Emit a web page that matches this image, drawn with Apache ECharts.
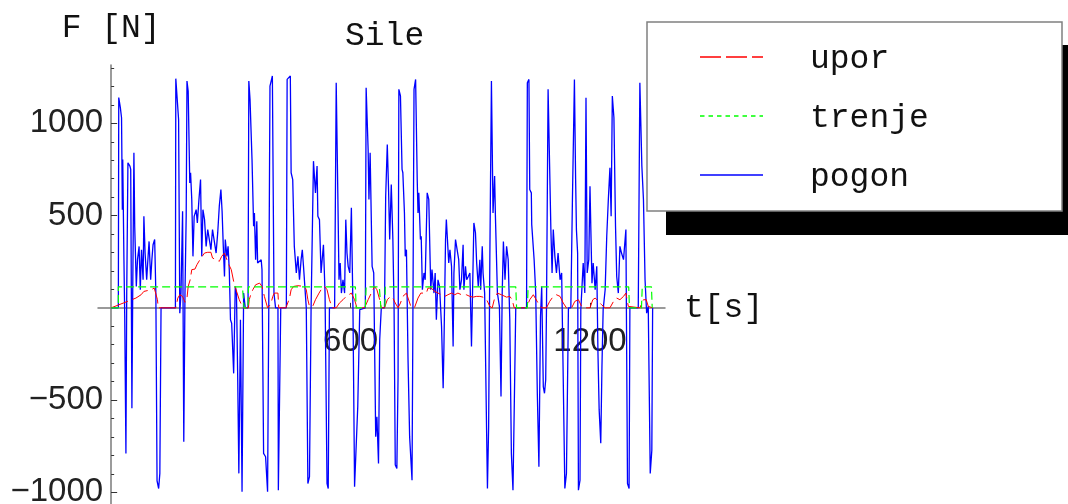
<!DOCTYPE html>
<html>
<head>
<meta charset="utf-8">
<title>Sile</title>
<script src="https://cdn.jsdelivr.net/npm/echarts@6.0.0/dist/echarts.min.js"></script>
<style>
  html, body { margin: 0; padding: 0; background: #fff; }
  #chart { width: 1068px; height: 504px; }
</style>
</head>
<body>
<div id="chart"></div>
<script>
// Forces over time: [t in s, F in N]
const pogon = [
  [0,0],[18,0],[19,1140],[23,1085],[26,1030],[28,532],[29,804],[32,261],[34,-47],[37,-789],[39,80],[42,786],[47,768],[49,750],[52,-544],[54,80],[57,840],[59,442],[63,116],[66,261],[70,333],[73,98],[76,315],[80,152],[82,496],[85,297],[89,152],[92,261],[95,360],[99,152],[102,261],[105,342],[109,370],[112,80],[115,-937],[119,-979],[122,-897],[125,0],
  [161,0],[162,1242],[166,1242],[169,1021],[172,-29],[175,80],[179,523],[182,-725],[185,80],[188,496],[190,1229],[193,1175],[197,677],[199,732],[202,587],[205,279],[208,496],[213,532],[216,460],[220,587],[224,695],[227,279],[230,532],[234,478],[238,333],[242,424],[246,370],[250,315],[254,424],[259,420],[263,297],[267,406],[271,551],[275,641],[278,523],[281,333],[284,170],[286,370],[290,279],[293,333],[296,207],[299,-65],[302,-83],[307,-355],[311,116],[314,80],[317,-355],[320,-897],[324,-65],[328,-997],[332,80],[336,0],
  [343,0],[345,1229],[348,1130],[353,804],[357,442],[359,514],[362,261],[365,469],[367,243],[372,234],[376,261],[378,207],[382,-789],[387,-807],[392,-997],[395,0],[398,1202],[403,1211],[404,1257],[408,80],[412,0],[418,0],[419,-988],[423,-997],[425,0],
  [439,0],[441,1238],[445,1229],[449,1257],[451,732],[455,695],[459,333],[464,189],[468,279],[472,152],[476,261],[479,315],[482,225],[489,0],[493,-952],[497,-915],[501,-10],[507,795],[512,623],[516,768],[518,496],[522,478],[526,189],[532,342],[536,80],[541,-952],[544,-979],[547,0],
  [560,0],[564,1220],[568,623],[571,152],[574,243],[577,80],[581,152],[585,80],[588,478],[591,297],[594,225],[598,189],[602,542],[606,-10],[610,-970],[614,-979],[618,-535],[623,-10],[637,0],[639,1193],[644,858],[646,587],[649,840],[654,225],[658,189],[663,-698],[666,-590],[670,-843],[673,-173],[677,0],
  [685,0],[688,605],[692,885],[695,659],[698,370],[702,668],[706,370],[709,0],[712,-852],[716,-870],[719,-373],[721,1184],[725,1148],[729,750],[731,732],[735,514],[737,279],[740,315],[744,-282],[748,-698],[754,-934],[756,-137],[759,1184],[763,1238],[767,695],[769,514],[771,623],[775,370],[777,388],[780,98],[784,189],[787,152],[792,623],[796,587],[798,388],[801,98],[804,207],[809,80],[812,189],[815,-65],[819,152],[823,116],[828,-101],[832,-436],[834,-210],[838,370],[840,478],[843,478],[846,243],[849,315],[853,225],[857,-210],[859,189],[863,370],[868,370],[871,261],[874,98],[878,152],[882,342],[884,98],[888,225],[891,152],[895,170],[899,189],[903,-210],[905,8],[909,460],[913,406],[916,243],[920,116],[924,261],[926,98],[930,333],[932,189],[936,80],[941,-680],[943,-979],[946,-644],[949,261],[953,1229],[957,514],[961,714],[963,496],[968,80],[973,8],[977,-481],[980,80],[983,360],[987,152],[991,333],[995,261],[999,-65],[1003,-789],[1007,-988],[1010,-979],[1014,0],
  [1041,0],[1043,1220],[1047,1238],[1049,641],[1053,623],[1054,451],[1058,442],[1060,261],[1064,80],[1068,-463],[1072,-861],[1076,-47],[1079,116],[1083,-427],[1086,-463],[1089,-391],[1091,0],[1095,1184],[1099,750],[1102,424],[1105,189],[1108,424],[1112,279],[1116,189],[1120,297],[1125,152],[1129,189],[1133,-391],[1137,-979],[1141,-897],[1146,0],
  [1152,0],[1156,587],[1161,1238],[1164,695],[1166,424],[1169,297],[1171,-988],[1175,-934],[1177,-10],[1183,243],[1187,80],[1190,1139],[1193,189],[1197,261],[1200,659],[1202,442],[1205,134],[1208,243],[1213,98],[1217,225],[1220,-246],[1223,-553],[1227,-734],[1230,-318],[1233,-10],[1238,98],[1242,388],[1246,587],[1250,759],[1253,496],[1256,1148],[1260,1030],[1264,442],[1267,170],[1271,80],[1275,333],[1279,297],[1284,261],[1288,370],[1290,424],[1294,-952],[1298,-979],[1300,0],
  [1321,0],[1325,1220],[1330,768],[1334,587],[1338,152],[1342,-29],[1346,8],[1351,-897],[1355,-771],[1357,0]
];

const upor = [
  [0,0],[62,53],[75,71],[82,89],[87,98],[100,98],[108,107],[112,100],[116,44],[118,0],[162,0],[167,53],[172,71],[179,62],[185,30],[190,53],[193,116],[198,152],[202,207],[210,210],[215,234],[225,270],[234,297],[242,301],[250,301],[254,270],[263,261],[271,252],[277,279],[284,297],[293,243],[301,207],[307,143],[313,98],[321,44],[330,0],
  [344,0],[346,44],[351,80],[355,98],[362,125],[372,134],[378,116],[384,62],[392,0],[400,20],[405,62],[409,80],[414,70],[418,80],[420,0],[438,0],[447,53],[451,98],[457,116],[468,120],[485,116],[489,98],[493,44],[497,8],[505,8],[512,44],[521,80],[526,98],[535,116],[541,98],[547,44],[554,0],
  [564,0],[572,26],[581,44],[589,62],[602,80],[610,44],[616,0],[635,0],[644,44],[652,80],[660,116],[666,98],[673,44],[677,0],[685,0],[692,44],[700,62],[706,53],[712,26],[719,0],[725,26],[731,62],[740,80],[744,71],[751,8],[760,0],
  [769,53],[776,80],[790,80],[794,107],[802,107],[811,89],[819,80],[828,71],[836,62],[844,71],[853,80],[861,71],[869,80],[878,71],[890,71],[899,62],[907,58],[915,62],[924,62],[932,58],[941,44],[949,8],[955,0],[960,44],[968,80],[978,71],[991,58],[999,62],[1005,44],[1010,0],
  [1041,0],[1049,44],[1058,71],[1063,62],[1070,26],[1079,0],[1091,0],[1099,35],[1108,62],[1116,71],[1125,62],[1133,26],[1141,0],[1154,0],[1162,35],[1171,44],[1179,8],[1187,0],[1200,0],[1207,44],[1213,53],[1221,35],[1229,17],[1238,0],[1250,0],[1259,35],[1267,53],[1275,44],[1284,62],[1290,80],[1296,8],[1300,0],[1325,0],[1334,44],[1341,44],[1346,8],[1351,0],[1357,0]
];

const trenje = [
  [0,0],[18,0],[18,114],[329,114],[333,0],[343,0],[344,114],[612,114],[614,0],[637,0],[639,114],
  [672,114],[676,0],[686,0],[687,114],[1014,114],[1016,0],[1043,0],[1045,114],
  [1297,114],[1299,0],[1329,0],[1331,114],[1354,114],[1356,0],[1357,0]
];

const xTickValues = [600, 1200];
const yTickValues = [-1000, -500, 500, 1000];
const yMinorTickValues = [-1000,-900,-800,-700,-600,-500,-400,-300,-200,-100,100,200,300,400,500,600,700,800,900,1000,1100,1200,1300];

const legendEntries = [
  { name: 'upor',   color: '#ff0000', dash: [21, 5] },
  { name: 'trenje', color: '#00ff00', dash: [4.5, 4] },
  { name: 'pogon',  color: '#0000ff', dash: null }
];

const X_MIN = -33, X_MAX = 1388;
const Y_MIN = -1063, Y_MAX = 1316;
const GRID = { left: 98, top: 65, width: 567, height: 439 };

const MONO = '"Liberation Mono", "DejaVu Sans Mono", monospace';
const SANS = '"Liberation Sans", Arial, sans-serif';
const AXIS_COLOR = '#7a7a7a';

function fmtMinus(v) {
  return v < 0 ? '\u2212' + Math.abs(v) : String(v);
}

// The axes cross at the origin: shift each axis from the grid edge onto the other axis' zero
const xZeroFromLeft = (0 - X_MIN) / (X_MAX - X_MIN) * GRID.width;
const yZeroFromBottom = (0 - Y_MIN) / (Y_MAX - Y_MIN) * GRID.height;

const chart = echarts.init(document.getElementById('chart'), null, { renderer: 'canvas' });

// Legend frame with its drop shadow, plus sample lines and labels
const legendGraphics = [
  { type: 'rect', z: 100, shape: { x: 666, y: 45, width: 420, height: 190 }, style: { fill: '#000' } },
  { type: 'rect', z: 101, shape: { x: 647, y: 22, width: 415, height: 189 },
    style: { fill: '#fff', stroke: '#808080', lineWidth: 1.5 } }
];
legendEntries.forEach((e, i) => {
  const yLine = 57 + i * 59;
  legendGraphics.push({
    type: 'line', z: 102,
    shape: { x1: 700, y1: yLine, x2: 763, y2: yLine },
    style: { stroke: e.color, lineWidth: 1.3, lineDash: e.dash || null }
  });
  legendGraphics.push({
    type: 'text', z: 102,
    style: { text: e.name, x: 810, y: yLine + 2.5, fill: '#111',
             font: '33px ' + MONO, verticalAlign: 'middle', align: 'left' }
  });
});

chart.setOption({
  animation: false,
  backgroundColor: '#fff',
  title: {
    text: 'Sile', left: 345, top: 20, padding: 0,
    textStyle: { fontFamily: MONO, fontSize: 33, fontWeight: 'normal', color: '#111' }
  },
  grid: Object.assign({ containLabel: false, outerBoundsMode: 'none' }, GRID),
  xAxis: {
    type: 'value', min: X_MIN, max: X_MAX, position: 'bottom', offset: -yZeroFromBottom,
    name: 't[s]', nameLocation: 'end', nameGap: 19,
    nameTextStyle: { fontFamily: MONO, fontSize: 33, color: '#111', verticalAlign: 'middle' },
    axisLine: { onZero: false, lineStyle: { color: AXIS_COLOR, width: 1.5 } },
    axisTick: { show: true, inside: true, length: 5, customValues: xTickValues, lineStyle: { color: '#333' } },
    axisLabel: { customValues: xTickValues, formatter: v => String(v), fontFamily: SANS, fontSize: 33, color: '#222', margin: 18 },
    splitLine: { show: false }
  },
  yAxis: [
    {
      type: 'value', min: Y_MIN, max: Y_MAX, position: 'left', offset: -xZeroFromLeft,
      name: 'F [N]', nameLocation: 'end', nameGap: 20,
      nameTextStyle: { fontFamily: MONO, fontSize: 33, color: '#111' },
      axisLine: { onZero: false, lineStyle: { color: AXIS_COLOR, width: 1.5 } },
      axisTick: { show: true, inside: true, length: 6, customValues: yTickValues, lineStyle: { color: '#333' } },
      axisLabel: { customValues: yTickValues, formatter: fmtMinus, fontFamily: SANS, fontSize: 33, color: '#222', margin: 8 },
      splitLine: { show: false }
    },
    {
      type: 'value', min: Y_MIN, max: Y_MAX, position: 'left', offset: -xZeroFromLeft,
      axisLine: { show: false, onZero: false },
      axisTick: { show: true, inside: true, length: 3, customValues: yMinorTickValues, lineStyle: { color: '#333' } },
      axisLabel: { show: false },
      splitLine: { show: false }
    }
  ],
  series: [
    {
      name: 'pogon', type: 'line', data: pogon, showSymbol: false, symbol: 'none',
      lineStyle: { color: '#0000ff', width: 1.3 }, z: 2
    },
    {
      name: 'upor', type: 'line', data: upor, showSymbol: false, symbol: 'none',
      lineStyle: { color: '#ff0000', width: 1, type: [18, 5] }, z: 3
    },
    {
      name: 'trenje', type: 'line', data: trenje, showSymbol: false, symbol: 'none',
      lineStyle: { color: '#00ff00', width: 1.2, type: [8, 4] }, z: 4
    }
  ],
  graphic: legendGraphics
});
</script>
</body>
</html>
